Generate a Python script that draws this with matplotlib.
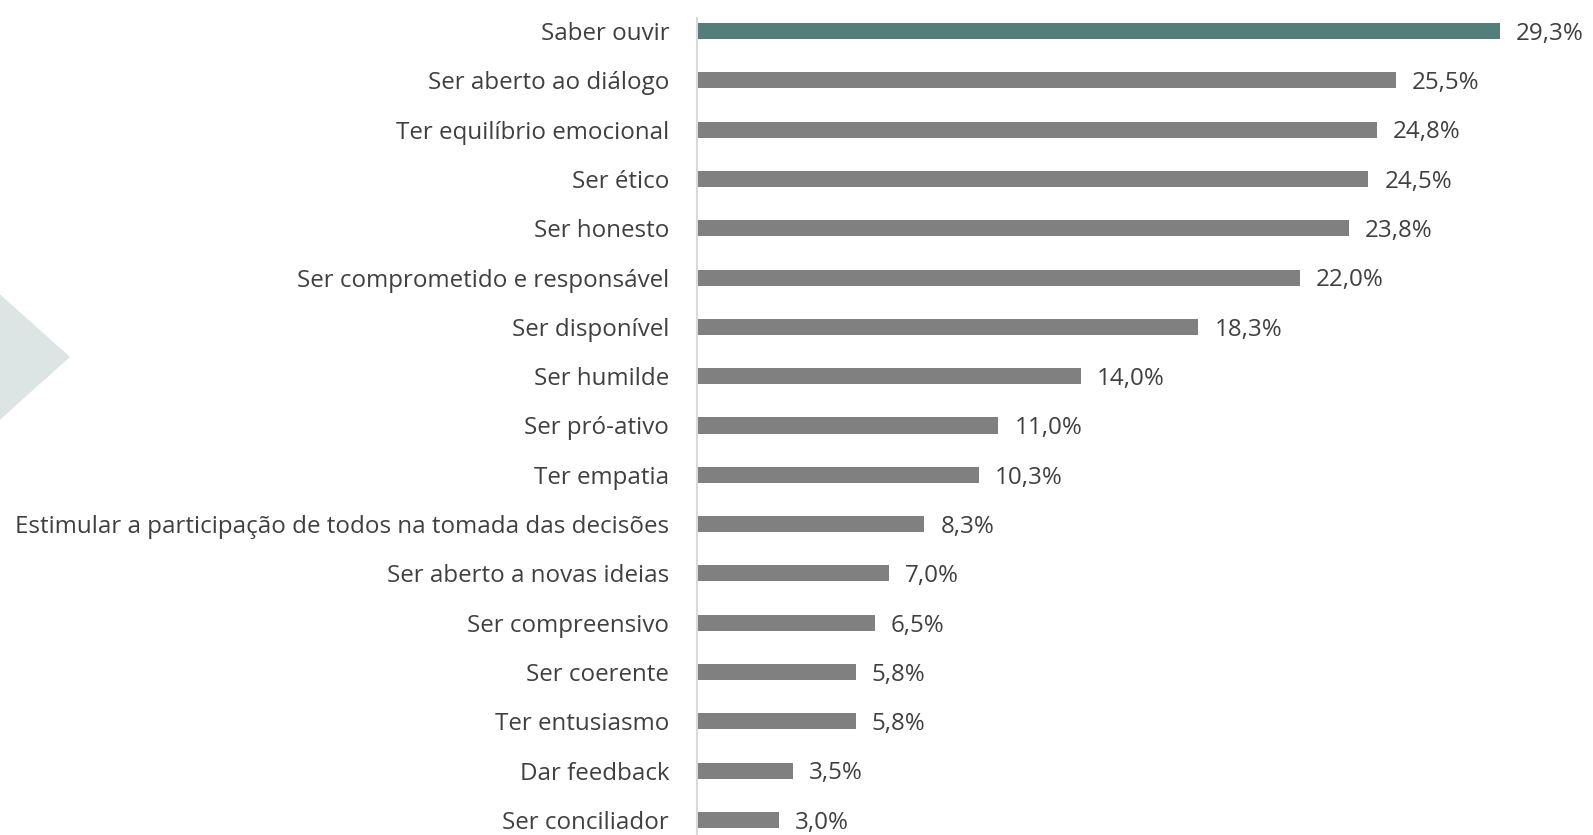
import matplotlib.pyplot as plt
from matplotlib.patches import Polygon

labels = ['Saber ouvir', 'Ser aberto ao diálogo', 'Ter equilíbrio emocional', 'Ser ético',
          'Ser honesto', 'Ser comprometido e responsável', 'Ser disponível', 'Ser humilde',
          'Ser pró-ativo', 'Ter empatia',
          'Estimular a participação de todos na tomada das decisões',
          'Ser aberto a novas ideias', 'Ser compreensivo', 'Ser coerente',
          'Ter entusiasmo', 'Dar feedback', 'Ser conciliador']
values = [29.3, 25.5, 24.8, 24.5, 23.8, 22.0, 18.3, 14.0, 11.0, 10.3, 8.3, 7.0, 6.5, 5.8, 5.8, 3.5, 3.0]

plt.rcParams['font.family'] = ['Open Sans', 'DejaVu Sans']

W, H = 1593, 835
fig = plt.figure(figsize=(W / 100, H / 100), dpi=100)
ax = fig.add_axes([697 / W, 0, 1 - 697 / W, 1 - 18 / H])

# decorative triangle on the left edge
fig.patches.append(Polygon([(-0.01, 1 - 280 / H), (70 / W, 1 - 357 / H), (-0.01, 1 - 434 / H)],
                           closed=True, transform=fig.transFigure, facecolor='#dde5e4',
                           edgecolor='none', zorder=0))

colors = ['#537e7a'] + ['#808080'] * (len(values) - 1)
ypos = list(range(len(values)))
bars = ax.barh(ypos, values, height=0.325, color=colors)

for y, v in zip(ypos, values):
    ax.annotate(f'{v:.1f}%'.replace('.', ','), (v, y), xytext=(11.5, -2),
                textcoords='offset points', va='center', ha='left',
                fontsize=17.4, color='#404040')

ax.set_xlim(0, 32.7)
ax.set_ylim(16 + 15 / 49.3, -13 / 49.3)
ax.set_yticks(ypos)
ax.set_yticklabels(labels, fontsize=17.4, color='#404040')
ax.tick_params(axis='y', length=0, pad=20)
ax.set_xticks([])
for s in ['top', 'right', 'bottom']:
    ax.spines[s].set_visible(False)
ax.spines['left'].set_color('#d9d9d9')
ax.spines['left'].set_linewidth(1.5)

fig.savefig('out.png', dpi=100)
